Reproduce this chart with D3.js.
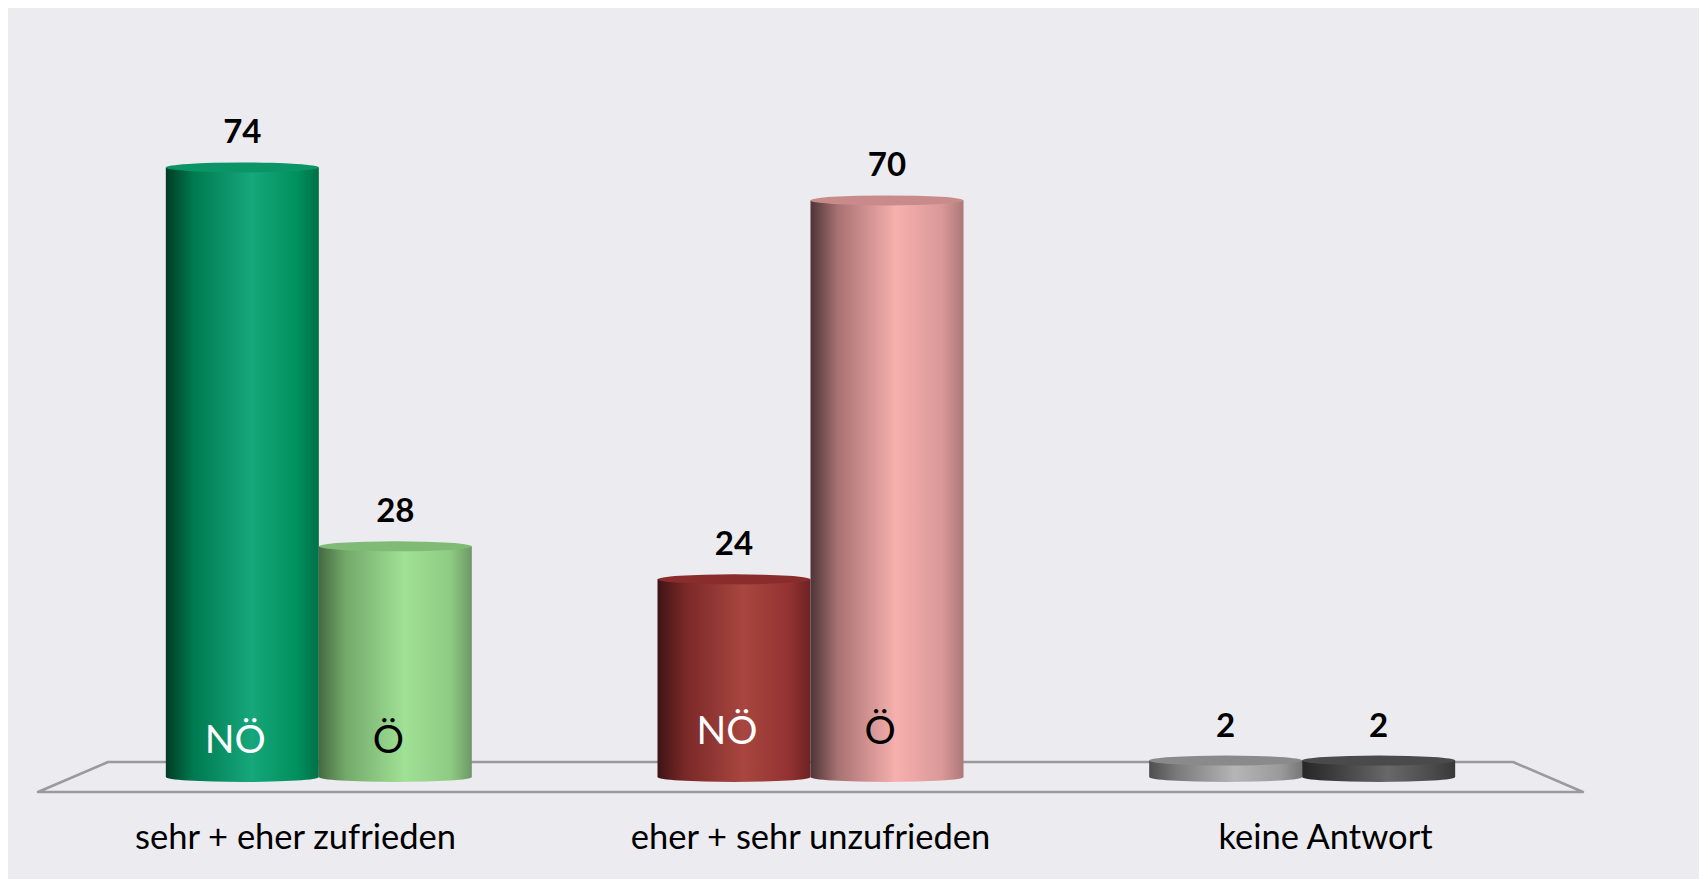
<!DOCTYPE html>
<html>
<head>
<meta charset="utf-8">
<script src="https://cdn.jsdelivr.net/npm/d3@7"></script>
<style>
	html, body { margin: 0; padding: 0; background: #fff; }
	svg { display: block; }
	text { font-family: Lato, 'Open Sans', sans-serif; }
</style>
</head>
<body>
<svg id="chart" width="1699" height="879"></svg>
<script>
/*global d3 */
// Data
var categories = ['sehr + eher zufrieden', 'eher + sehr unzufrieden', 'keine Antwort'];
var seriesNames = ['NÖ', 'Ö'];
var valuesNO = [74, 24, 2];
var valuesO = [28, 70, 2];

(function () {
	'use strict';
	var svg, defs, width, height,
		// scales
		x0, x1, xFront, y,
		// layout
		midLeft, midRight, baseY, depthX, depthY, barWidth, rx, ry,
		// style
		palette, tops, stops,
		// data
		rows,
		// functions
		barLeft, cylinderPath, drawBackground, drawFloor, drawBars, drawLabels;

	svg = d3.select('#chart');
	width = +svg.attr('width');
	height = +svg.attr('height');
	defs = svg.append('defs');

	midLeft = 73;
	midRight = 1548;
	baseY = 777;
	depthX = 35;
	depthY = 15;
	barWidth = 153;
	rx = barWidth / 2;
	ry = 5;

	// gradients for the cylinder shading, one row per category, one column per series
	stops = [0, 0.18, 0.56, 0.86, 1];
	palette = [
		[['#003b25', '#007a50', '#16a77a', '#00905e', '#007048'], ['#456b41', '#74aa6b', '#a0e195', '#8fcb83', '#6d9866']],
		[['#3e1414', '#7a2828', '#a8463f', '#933232', '#6e2222'], ['#4f3437', '#a87272', '#f7b0ae', '#da9898', '#ad7878']],
		[['#4e4e4e', '#7a7a7a', '#b5b5b5', '#9a9a9a', '#777777'], ['#262626', '#3a3a3a', '#686868', '#4a4a4a', '#383838']]
	];
	tops = [['#0b9566', '#80bb76'], ['#8a2c2c', '#c98a8a'], ['#8a8a8a', '#4a4a4a']];

	rows = [];
	categories.forEach(function (c, i) {
		rows.push({ cat: c, ci: i, si: 0, name: seriesNames[0], value: valuesNO[i] });
		rows.push({ cat: c, ci: i, si: 1, name: seriesNames[1], value: valuesO[i] });
	});

	// scales
	x0 = d3.scaleBand().domain(categories).range([midLeft, midRight]);
	x1 = d3.scaleBand().domain(seriesNames).range([0, barWidth * 2]);
	xFront = d3.scaleBand().domain(categories).range([midLeft - depthX, midRight + depthX]);
	y = d3.scaleLinear().domain([0, 80]).range([baseY, 118]);

	barLeft = function (d) {
		return x0(d.cat) + x0.bandwidth() / 2 - barWidth + x1(d.name);
	};

	cylinderPath = function (xl, yt) {
		var xr = xl + barWidth;
		return 'M' + xl + ',' + yt + 'L' + xl + ',' + baseY +
			'A' + rx + ',' + ry + ' 0 0 0 ' + xr + ',' + baseY +
			'L' + xr + ',' + yt + 'Z';
	};

	drawBackground = function () {
		svg.append('rect')
			.attr('x', 8)
			.attr('y', 8)
			.attr('width', width - 8)
			.attr('height', height - 8)
			.attr('fill', '#ebebf0');
	};

	drawFloor = function () {
		var pts = [
			[midLeft + depthX, baseY - depthY],
			[midRight - depthX, baseY - depthY],
			[midRight + depthX, baseY + depthY],
			[midLeft - depthX, baseY + depthY]
		];
		svg.append('path')
			.attr('d', d3.line()(pts) + 'Z')
			.attr('fill', 'none')
			.attr('stroke', '#9a9a9e')
			.attr('stroke-width', 2.5)
			.attr('stroke-linejoin', 'round');
	};

	drawBars = function () {
		var g, bar;

		// gradients
		rows.forEach(function (d) {
			var grad = defs.append('linearGradient')
				.attr('id', 'grad-' + d.ci + '-' + d.si)
				.attr('x1', '0%').attr('x2', '100%')
				.attr('y1', '0%').attr('y2', '0%');
			palette[d.ci][d.si].forEach(function (col, k) {
				grad.append('stop').attr('offset', stops[k]).attr('stop-color', col);
			});
		});

		g = svg.append('g').attr('class', 'bars');
		bar = g.selectAll('g.bar').data(rows).enter().append('g').attr('class', 'bar');

		// body
		bar.append('path')
			.attr('d', function (d) {
				return cylinderPath(barLeft(d), y(d.value));
			})
			.attr('fill', function (d) {
				return 'url(#grad-' + d.ci + '-' + d.si + ')';
			});

		// top face
		bar.append('ellipse')
			.attr('cx', function (d) { return barLeft(d) + rx; })
			.attr('cy', function (d) { return y(d.value); })
			.attr('rx', rx)
			.attr('ry', ry)
			.attr('fill', function (d) { return tops[d.ci][d.si]; });
	};

	drawLabels = function () {
		var barCenter = function (d) {
			return barLeft(d) + rx;
		};

		// values above the bars
		svg.append('g').selectAll('text').data(rows).enter().append('text')
			.attr('x', barCenter)
			.attr('y', function (d) { return y(d.value) - 24; })
			.attr('text-anchor', 'middle')
			.attr('font-size', 33)
			.attr('font-weight', 'bold')
			.attr('fill', '#000')
			.text(function (d) { return d.value; });

		// series names inside the taller bars
		svg.append('g').selectAll('text').data(rows.filter(function (d) { return d.value > 10; }))
			.enter().append('text')
			.attr('x', function (d) { return barCenter(d) - 7; })
			.attr('y', function (d) { return d.ci === 0 ? baseY - 24 : baseY - 33; })
			.attr('text-anchor', 'middle')
			.attr('font-size', 39)
			.attr('fill', function (d) { return d.si === 0 ? '#fff' : '#000'; })
			.text(function (d) { return d.name; });

		// category names along the front edge of the floor
		svg.append('g').selectAll('text').data(categories).enter().append('text')
			.attr('x', function (d) { return xFront(d) + xFront.bandwidth() / 2; })
			.attr('y', 849)
			.attr('text-anchor', 'middle')
			.attr('font-size', 34.5)
			.attr('fill', '#000')
			.text(function (d) { return d; });
	};

	drawBackground();
	drawFloor();
	drawBars();
	drawLabels();
}());
</script>
</body>
</html>
